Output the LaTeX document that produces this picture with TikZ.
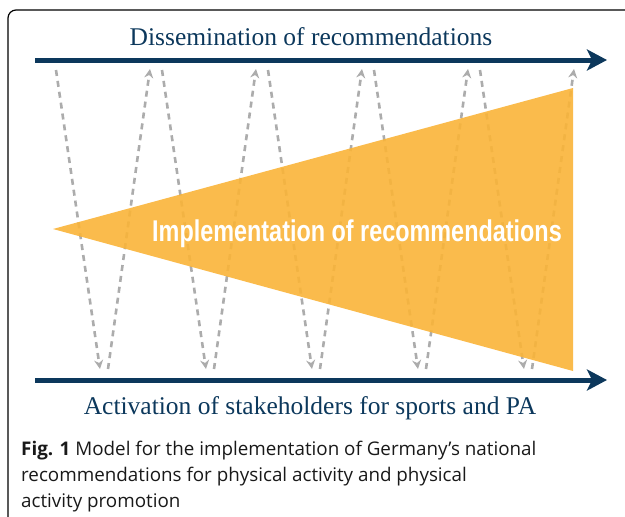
\documentclass[tikz,border=0pt]{standalone}
\usepackage{fontspec}
\setmainfont{Liberation Serif}
\setsansfont{Open Sans}
\newfontfamily\narrowbold{Liberation Sans}
\usetikzlibrary{arrows.meta}
\definecolor{navy}{RGB}{12,56,92}
\definecolor{amber}{RGB}{250,180,56}
\definecolor{dashgray}{RGB}{172,172,172}

\begin{document}
\begin{tikzpicture}[x=1pt, y=-1pt,
    flow/.style={navy, line width=5pt, -{Stealth[length=20pt, width=21pt, inset=5pt]}},
    zig/.style={dashgray, line width=2.6pt, dash pattern=on 6pt off 5pt, -{Stealth[length=9pt, width=9pt]}},
    title/.style={navy, font=\fontsize{25.5}{25.5}\selectfont, anchor=base},
    capline/.style={anchor=base west, inner sep=0pt, font=\sffamily\fontsize{18.8}{18.8}\selectfont, text=black!90}
    ]
    \useasboundingbox (0,0) rectangle (625,517);

    % frame
    \draw[line width=1.2pt, rounded corners=8pt] (8,10) rectangle (650,540);

    % Flows
    \coordinate (TopL) at (35,60);
    \coordinate (TopR) at (607,60);
    \coordinate (BotL) at (35,380);
    \coordinate (BotR) at (607,380);
    \node[title] (Diss) at (311,45) {Dissemination of recommendations};
    \node[title] (Act) at (310,414) {Activation of stakeholders for sports and PA};

    % Zigzag between the flows
    \foreach \k in {0,...,4} {
        \coordinate (Up\k) at ({56+106*\k},70);
        \coordinate (Dn\k) at ({100+106*\k},369);
        \coordinate (Bk\k) at ({108+106*\k},369);
        \coordinate (Tp\k) at ({150+106*\k},69);
        \draw[zig] (Up\k) -- (Dn\k);
        \draw[zig] (Bk\k) -- (Tp\k);
    }

    % Implementation wedge
    \coordinate (Tip) at (53,229);
    \coordinate (WedgeT) at (573,88);
    \coordinate (WedgeB) at (573,371);
    \fill[amber, fill opacity=0.9] (Tip) -- (WedgeT) -- (WedgeB) -- cycle;
    \node[anchor=base, text=white, font=\narrowbold\bfseries\fontsize{30}{30}\selectfont] (Impl) at (357,241)
        {\scalebox{0.78}[1]{Implementation of recommendations}};

    \draw[flow] (TopL) -- (TopR);
    \draw[flow] (BotL) -- (BotR);

    % Caption
    \node[capline] (Cap1) at (21,455) {\textbf{Fig. 1} Model for the implementation of Germany's national};
    \node[capline] (Cap2) at (21,481) {recommendations for physical activity and physical};
    \node[capline] (Cap3) at (21,507) {activity promotion};
\end{tikzpicture}
\end{document}
